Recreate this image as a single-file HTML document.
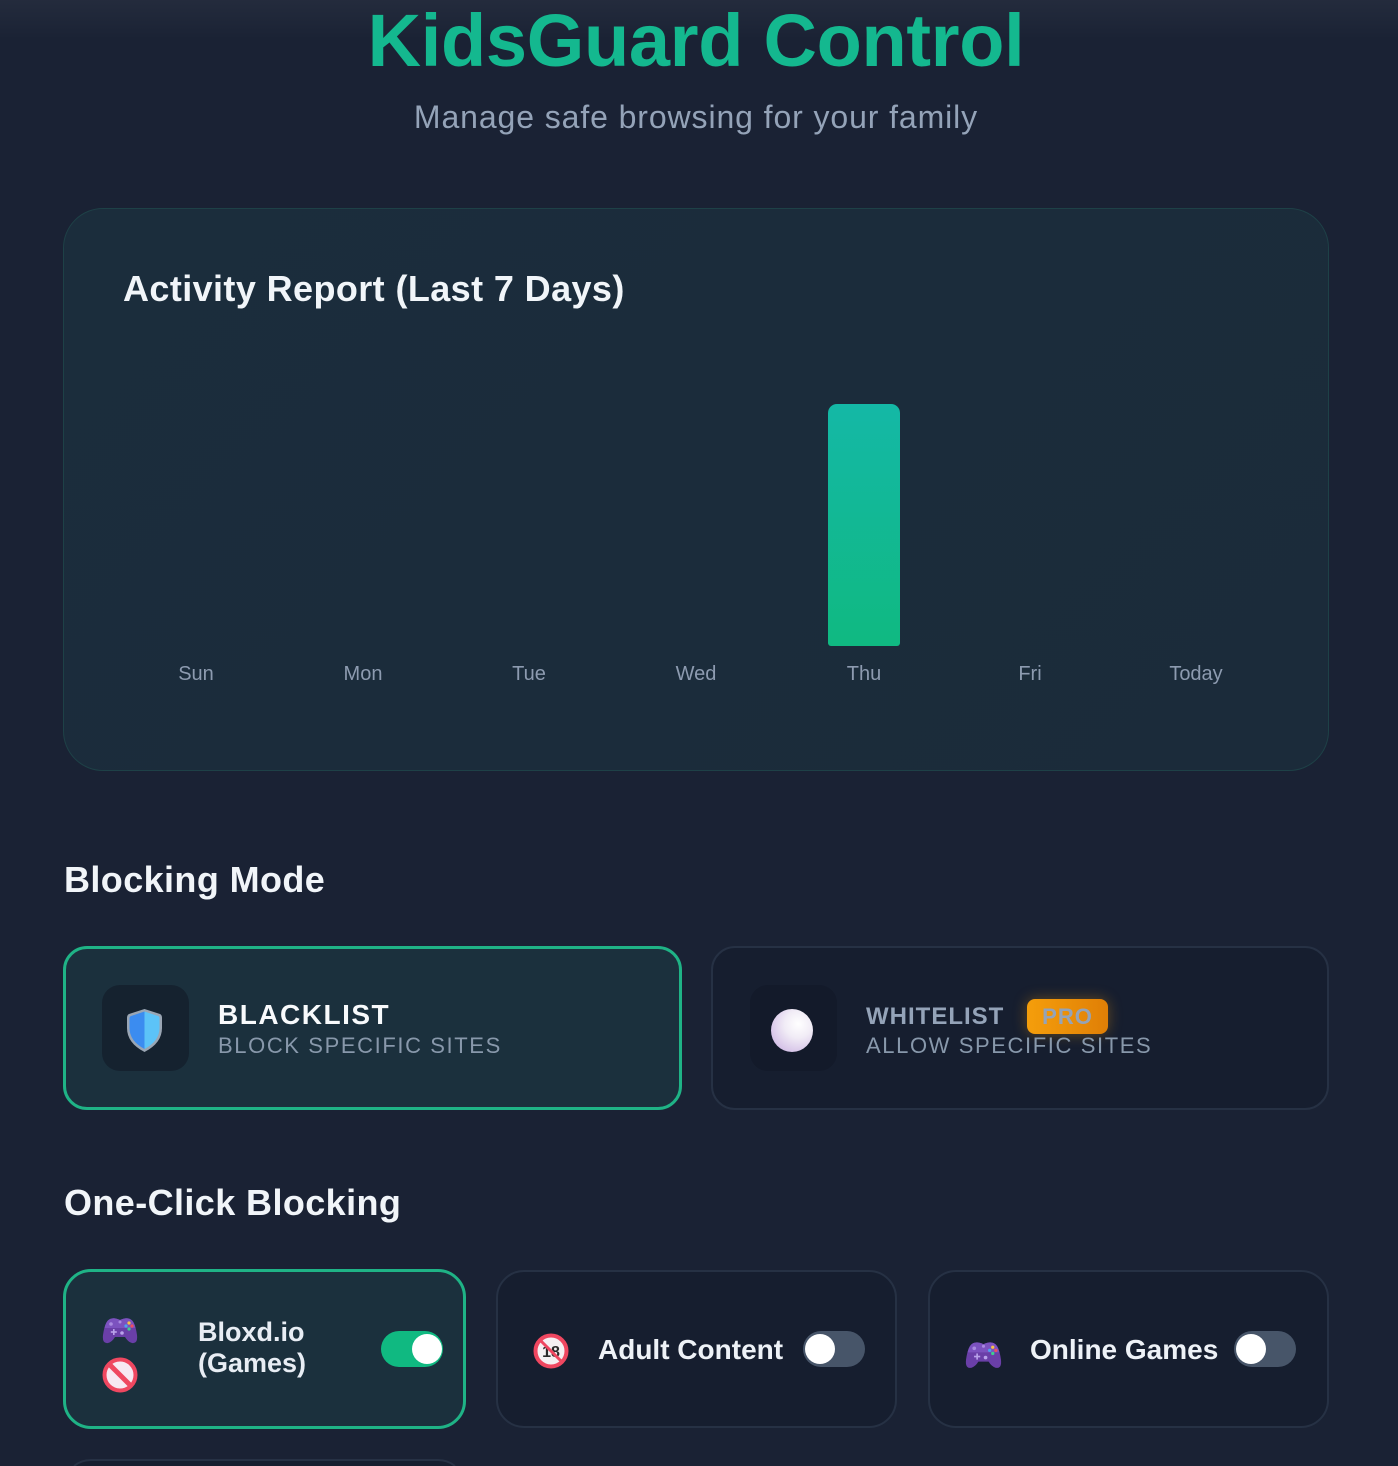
<!DOCTYPE html>
<html>
<head>
<meta charset="utf-8">
<style>
  html,body{margin:0;padding:0;background:#1a2234;overflow:hidden;width:1398px;height:1466px;}
  #root{width:1398px;height:1466px;overflow:hidden;position:relative;
    background:#1a2234;font-family:"Liberation Sans",sans-serif;}
  .topglow{position:absolute;left:0;top:0;width:1398px;height:40px;
    background:linear-gradient(180deg,rgba(255,255,255,0.045),rgba(255,255,255,0));}
  .abs{position:absolute;white-space:nowrap;}
  .title{left:63px;width:1266px;text-align:center;top:4px;font-size:74px;line-height:74px;
    font-weight:bold;color:#14b88f;letter-spacing:-0.3px;}
  .sub{left:63px;width:1266px;text-align:center;top:101px;font-size:32px;line-height:32px;
    color:#94a3b8;letter-spacing:0.9px;}
  .chart{position:absolute;left:63px;top:208px;width:1264px;height:561px;border-radius:40px;
    border:1px solid #1e4147;background:linear-gradient(135deg,#1b2d3c,#1b2b3a);}
  .h2{font-size:36px;line-height:36px;font-weight:bold;color:#f1f5f9;letter-spacing:0.4px;}
  .day{width:140px;text-align:center;font-size:20px;line-height:20px;color:#8d9bb0;top:664px;}
  .bar{position:absolute;left:828px;top:404px;width:72px;height:242px;border-radius:9px 9px 3px 3px;
    background:linear-gradient(180deg,#14b8a6,#10b981);}
  .card{position:absolute;box-sizing:border-box;}
  .sel{background:#1b303d;border:3px solid #1fb386;}
  .unsel{background:#161e2f;border:2px solid #263144;}
  .ibox{position:absolute;width:87px;height:86px;border-radius:18px;}
  .mt{font-size:28px;line-height:28px;font-weight:bold;color:#f8fafc;letter-spacing:1.5px;}
  .ms{font-size:22px;line-height:22px;color:#8898ab;letter-spacing:1.6px;}
  .lbl{font-size:27px;line-height:31px;font-weight:bold;color:#e8edf4;}
  .tog{position:absolute;width:62px;height:36px;border-radius:18px;}
  .knob{position:absolute;top:3px;width:30px;height:30px;border-radius:50%;background:#fff;}
</style>
</head>
<body>
<div id="root">
<div class="topglow"></div>

<div class="abs title">KidsGuard Control</div>
<div class="abs sub">Manage safe browsing for your family</div>

<div class="chart"></div>
<div class="abs h2" style="left:123px;top:271px;">Activity Report (Last 7 Days)</div>
<div class="bar"></div>
<div class="abs day" style="left:126px;">Sun</div>
<div class="abs day" style="left:293px;">Mon</div>
<div class="abs day" style="left:459px;">Tue</div>
<div class="abs day" style="left:626px;">Wed</div>
<div class="abs day" style="left:794px;">Thu</div>
<div class="abs day" style="left:960px;">Fri</div>
<div class="abs day" style="left:1126px;">Today</div>

<div class="abs h2" style="left:64px;top:862px;">Blocking Mode</div>

<!-- Blacklist card -->
<div class="card sel" style="left:63px;top:946px;width:619px;height:164px;border-radius:24px;"></div>
<div class="ibox" style="left:102px;top:985px;background:#15222f;"></div>
<svg class="abs" style="left:126px;top:1008px;" width="37" height="45" viewBox="0 0 37 45">
  <path d="M18.5 1 L34 6 Q36 7 36 10 L36 20 Q36 35 18.5 44 Q1 35 1 20 L1 10 Q1 7 3 6 Z" fill="#9aa6b4"/>
  <path d="M18.5 3.5 L5 8 Q3.5 8.6 3.5 10.5 L3.5 20 Q3.5 33 18.5 41 Z" fill="#3b8cf0"/>
  <path d="M18.5 3.5 L32 8 Q33.5 8.6 33.5 10.5 L33.5 20 Q33.5 33 18.5 41 Z" fill="#5cc3f8"/>
</svg>
<div class="abs mt" style="left:218px;top:1001px;">BLACKLIST</div>
<div class="abs ms" style="left:218px;top:1035px;">BLOCK SPECIFIC SITES</div>

<!-- Whitelist card -->
<div class="card unsel" style="left:711px;top:946px;width:618px;height:164px;border-radius:24px;"></div>
<div class="ibox" style="left:750px;top:985px;background:#131a2a;"></div>
<div class="abs" style="left:771px;top:1009px;width:42px;height:43px;border-radius:50%;
  background:radial-gradient(circle at 65% 35%,#ffffff 0%,#f1ecf6 35%,#d6c3e8 75%,#b894d6 100%);"></div>
<div class="abs" style="left:866px;top:1005px;font-size:24px;line-height:24px;font-weight:bold;color:#94a3b8;letter-spacing:1px;">WHITELIST</div>
<div class="abs" style="left:1027px;top:999px;width:81px;height:35px;border-radius:8px;
  background:linear-gradient(90deg,#f59e0b,#e07f06);box-shadow:0 0 14px rgba(245,158,11,0.35);
  text-align:center;font-size:22px;line-height:35px;font-weight:bold;color:#94a3b8;letter-spacing:1px;">PRO</div>
<div class="abs ms" style="left:866px;top:1035px;">ALLOW SPECIFIC SITES</div>

<div class="abs h2" style="left:64px;top:1185px;">One-Click Blocking</div>

<!-- Card 1 -->
<div class="card sel" style="left:63px;top:1269px;width:403px;height:160px;border-radius:28px;"></div>
<svg class="abs" style="left:102px;top:1317px;" width="36" height="28" viewBox="0 0 36 28">
  <path d="M8 2 Q12 0 18 3 Q24 0 28 2 Q33 4 35 18 Q36 27 30 26 Q26 25 23 20 L13 20 Q10 25 6 26 Q0 27 1 18 Q3 4 8 2 Z" fill="#6a3fa8"/>
  <path d="M8 2 Q12 0 18 3 Q24 0 28 2 Q32 4 33.5 11 L2.5 11 Q4 4 8 2 Z" fill="#7c52bf"/>
  <circle cx="9" cy="7" r="1.8" fill="#a98ae0"/>
  <circle cx="18" cy="5" r="1.5" fill="#a98ae0"/>
  <rect x="11" y="12" width="1.6" height="6" fill="#b9a2ea"/><rect x="8.8" y="14.2" width="6" height="1.6" fill="#b9a2ea"/>
  <circle cx="27" cy="6" r="1.6" fill="#f6c344"/><circle cx="30" cy="9" r="1.6" fill="#ef4f5f"/>
  <circle cx="24" cy="9" r="1.6" fill="#4aa3f0"/><circle cx="27" cy="12" r="1.6" fill="#3ecf8e"/>
  <circle cx="20" cy="16" r="1.8" fill="#b9a2ea"/>
</svg>
<svg class="abs" style="left:102px;top:1357px;" width="36" height="36" viewBox="0 0 36 36">
  <circle cx="18" cy="18" r="15.5" fill="#f7e8f2" stroke="#ef4760" stroke-width="4"/>
  <line x1="8" y1="8" x2="28" y2="28" stroke="#ef4760" stroke-width="5"/>
</svg>
<div class="abs lbl" style="left:198px;top:1317px;">Bloxd.io<br>(Games)</div>
<div class="tog" style="left:381px;top:1331px;background:#10b981;"><div class="knob" style="left:31px;"></div></div>

<!-- Card 2 -->
<div class="card unsel" style="left:496px;top:1270px;width:401px;height:158px;border-radius:28px;"></div>
<svg class="abs" style="left:533px;top:1333px;" width="36" height="36" viewBox="0 0 36 36">
  <circle cx="18" cy="18" r="15.5" fill="#f5f0f2" stroke="#ef4760" stroke-width="4"/>
  <text x="18" y="24" text-anchor="middle" font-family="Liberation Sans" font-weight="bold" font-size="16" fill="#2b2b2b">18</text>
  <line x1="8" y1="8" x2="28" y2="28" stroke="#ef4760" stroke-width="3"/>
</svg>
<div class="abs" style="left:598px;top:1334px;font-size:28px;line-height:31px;font-weight:bold;color:#eef2f7;">Adult Content</div>
<div class="tog" style="left:803px;top:1331px;background:#475569;"><div class="knob" style="left:2px;"></div></div>

<!-- Card 3 -->
<div class="card unsel" style="left:928px;top:1270px;width:401px;height:158px;border-radius:28px;"></div>
<svg class="abs" style="left:965px;top:1341px;" width="37" height="29" viewBox="0 0 36 28">
  <path d="M8 2 Q12 0 18 3 Q24 0 28 2 Q33 4 35 18 Q36 27 30 26 Q26 25 23 20 L13 20 Q10 25 6 26 Q0 27 1 18 Q3 4 8 2 Z" fill="#6a3fa8"/>
  <path d="M8 2 Q12 0 18 3 Q24 0 28 2 Q32 4 33.5 11 L2.5 11 Q4 4 8 2 Z" fill="#7c52bf"/>
  <circle cx="9" cy="7" r="1.8" fill="#a98ae0"/>
  <circle cx="18" cy="5" r="1.5" fill="#a98ae0"/>
  <rect x="11" y="12" width="1.6" height="6" fill="#b9a2ea"/><rect x="8.8" y="14.2" width="6" height="1.6" fill="#b9a2ea"/>
  <circle cx="27" cy="6" r="1.6" fill="#f6c344"/><circle cx="30" cy="9" r="1.6" fill="#ef4f5f"/>
  <circle cx="24" cy="9" r="1.6" fill="#4aa3f0"/><circle cx="27" cy="12" r="1.6" fill="#3ecf8e"/>
  <circle cx="20" cy="16" r="1.8" fill="#b9a2ea"/>
</svg>
<div class="abs" style="left:1030px;top:1334px;font-size:28px;line-height:31px;font-weight:bold;color:#eef2f7;">Online Games</div>
<div class="tog" style="left:1234px;top:1331px;background:#475569;"><div class="knob" style="left:2px;"></div></div>

<!-- Next row (partially visible top edge only) -->
<svg class="abs" style="left:63px;top:1459px;" width="403" height="7" viewBox="0 0 403 7">
  <path d="M11 7 A27 27 0 0 1 28 1 L375 1 A27 27 0 0 1 392 7 Z" fill="#161e2f"/>
  <path d="M11 7 A27 27 0 0 1 28 1 L375 1 A27 27 0 0 1 392 7" fill="none" stroke="#263144" stroke-width="2"/>
</svg>
</div>
</body>
</html>
